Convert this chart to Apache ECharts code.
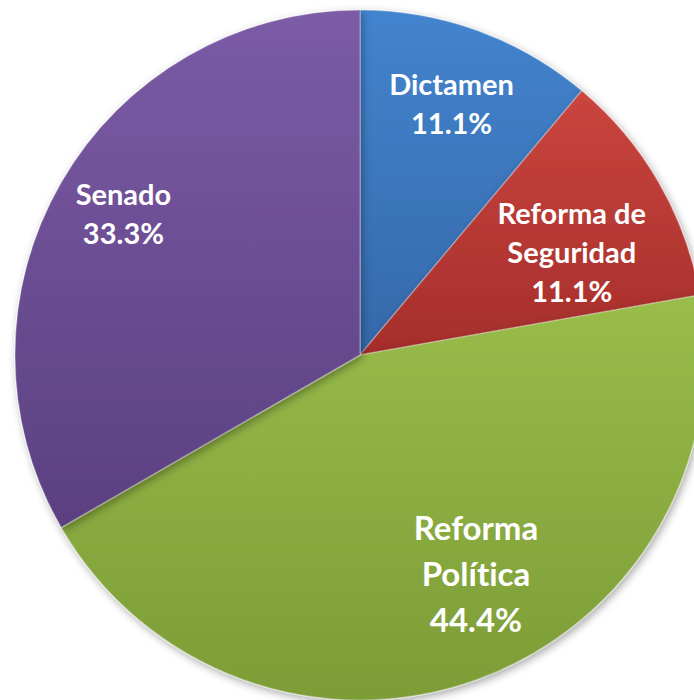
<!DOCTYPE html>
<html>
<head>
<meta charset="utf-8">
<script src="https://cdn.jsdelivr.net/npm/echarts@6/dist/echarts.min.js"></script>
<style>
html,body{margin:0;padding:0;background:#fff;}
#c{width:694px;height:700px;}
#c text{font-variant-ligatures:none;font-feature-settings:"liga" 0, "clig" 0;}
</style>
</head>
<body>
<div id="c"></div>
<script>
const categories = ['Dictamen', 'Reforma de\nSeguridad', 'Reforma\nPolítica', 'Senado'];
const values = [1, 1, 4, 3];
const percentLabels = ['11.1%', '11.1%', '44.4%', '33.3%'];

// styling (not data)
const topColors = ['#4384ce', '#ca453e', '#99bc4b', '#7c5ba6'];
const bottomColors = ['#3568aa', '#a52e2b', '#7c9c36', '#5a4080'];
const labelPlace = [[0.776, 0], [0.683, -4], [0.716, 8], [0.80, -1]]; // radial factor, angle shift (deg)
const bigLabel = [false, false, true, false];

const chart = echarts.init(document.getElementById('c'), null, { renderer: 'svg' });
const data = categories.map((name, i) => ({
  name: name,
  value: values[i],
  itemStyle: {
    color: new echarts.graphic.LinearGradient(0, 0, 0, 1, [
      { offset: 0, color: topColors[i] },
      { offset: 1, color: bottomColors[i] }
    ])
  },
  label: {
    fontSize: bigLabel[i] ? 33 : 29,
    lineHeight: bigLabel[i] ? 46 : 39
  }
}));

chart.setOption({
  animation: false,
  backgroundColor: '#ffffff',
  series: [{
    type: 'pie',
    center: [360, 355],
    radius: [0, 345],
    startAngle: 90,
    clockwise: true,
    data: data,
    itemStyle: {
      borderColor: 'rgba(255,255,255,0.25)',
      borderWidth: 1.5,
      shadowBlur: 8,
      shadowColor: 'rgba(0,0,0,0.35)',
      shadowOffsetX: 2,
      shadowOffsetY: 3
    },
    label: {
      show: true,
      position: 'inside',
      color: '#ffffff',
      fontFamily: 'Lato',
      fontWeight: 'bold',
      align: 'center',
      formatter: p => p.name + '\n' + percentLabels[p.dataIndex]
    },
    labelLine: { show: false },
    labelLayout: function (params) {
      const i = params.dataIndex;
      const sd = chart.getModel().getSeriesByIndex(0).getData();
      const lay = sd.getItemLayout(i);
      const mid = (lay.startAngle + lay.endAngle) / 2 - labelPlace[i][1] * Math.PI / 180;
      const rr = lay.r * labelPlace[i][0];
      return { x: lay.cx + rr * Math.cos(mid), y: lay.cy + rr * Math.sin(mid) };
    },
    emphasis: { disabled: true }
  }]
});
</script>
</body>
</html>
